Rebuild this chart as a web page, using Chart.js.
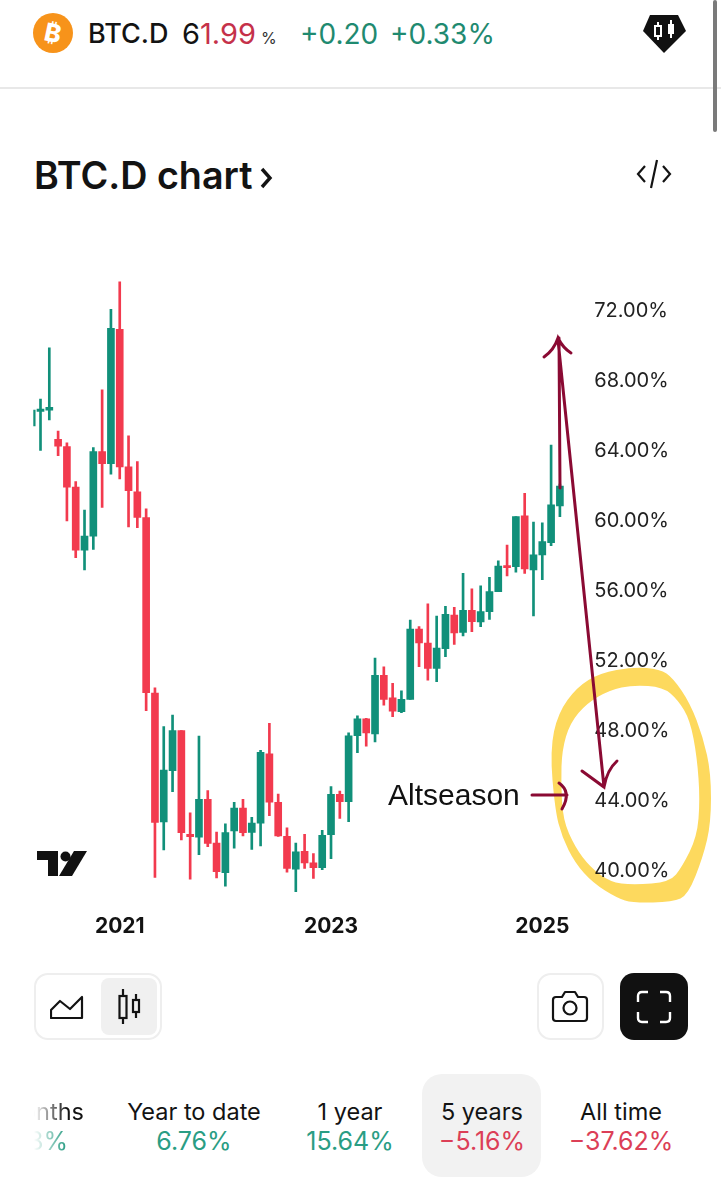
<!DOCTYPE html>
<html>
<head>
<meta charset="utf-8">
<title>BTC.D chart</title>
<script src="https://cdn.jsdelivr.net/npm/chart.js@4/dist/chart.umd.min.js"></script>
<style>
    html, body { margin: 0; padding: 0; background: #fff; }
    body { position: relative; width: 721px; height: 1200px; overflow: hidden; font-family: Inter, Roboto, sans-serif; color: #131313; }
    .abs { position: absolute; white-space: nowrap; }
    #chartWrap { position: absolute; left: 0; top: 276px; width: 721px; height: 664px; }
    .tab { position: absolute; top: 1097px; text-align: center; transform: translateX(-50%); white-space: nowrap; }
    .tab .name { font-size: 23.5px; line-height: 29px; color: #131313; }
    .tab .val { font-size: 25px; line-height: 31px; }
    .up { color: #2a9d84; }
    .down { color: #dc3f57; }
    .box { position: absolute; box-sizing: border-box; border: 2px solid #eeeeee; border-radius: 14px; }
</style>
</head>
<body>

<!-- header -->
<svg class="abs" style="left:33px;top:13px" width="40" height="40" viewBox="0 0 40 40">
    <circle cx="20" cy="20" r="20" fill="#f7931a"/>
    <text x="20" y="29" font-family="Inter" font-weight="800" font-size="25" fill="#fff" text-anchor="middle" transform="rotate(12 20 20)">₿</text>
</svg>
<div class="abs" style="left:88px;top:17px;font-size:27px;line-height:34px;font-weight:500">BTC.D</div>
<div class="abs" style="left:182px;top:17px;font-size:29px;line-height:34px">6<span style="color:#c5314a">1.99</span><span style="font-size:16px;color:#333;margin-left:5px">%</span></div>
<div class="abs" style="left:300px;top:17px;font-size:28px;line-height:34px;color:#1f8a70">+0.20</div>
<div class="abs" style="left:390px;top:17px;font-size:28px;line-height:34px;color:#1f8a70">+0.33%</div>
<svg class="abs" style="left:642px;top:13px" width="46" height="42" viewBox="0 0 46 42">
    <path d="M8 2H36L44 18L22 40L1 18Z" fill="#111"/>
    <path d="M16 9V27M29 7V25" stroke="#fff" stroke-width="2"/>
    <rect x="13" y="13" width="6" height="10" fill="#111" stroke="#fff" stroke-width="2"/>
    <rect x="26" y="11" width="6" height="10" fill="#fff"/>
</svg>
<div class="abs" style="left:0;top:87px;width:721px;height:1.5px;background:#e8e8e8"></div>
<div class="abs" style="left:713px;top:0;width:4px;height:132px;border-radius:2px;background:#7a7a7a"></div>

<div class="abs" style="left:34px;top:150px;font-size:37.7px;line-height:50px;font-weight:600">BTC.D chart</div>
<svg class="abs" style="left:258px;top:166px" width="16" height="24" viewBox="0 0 16 24">
    <path d="M4 3L12 12L4 21" fill="none" stroke="#131313" stroke-width="3.4"/>
</svg>
<svg class="abs" style="left:635px;top:158px" width="38" height="32" viewBox="0 0 38 32">
    <path d="M10 8L3 16L10 24M28 8L35 16L28 24M22 2L16 30" fill="none" stroke="#131313" stroke-width="2.2"/>
</svg>

<!-- chart -->
<div id="chartWrap"><canvas id="btcdChart"></canvas></div>

<svg class="abs" style="left:37px;top:851px" width="50" height="26" viewBox="0 0 50 26">
    <path d="M0 0H21V25H11V9H0Z" fill="#111"/>
    <circle cx="28.5" cy="5.5" r="5" fill="#111"/>
    <path d="M37 0H50L35 25H22Z" fill="#111"/>
</svg>
<div class="abs" style="left:388px;top:776px;font-family:'Liberation Sans';font-size:30px;line-height:38px;color:#111">Altseason</div>

<!-- chart type buttons -->
<div class="box" style="left:34px;top:973px;width:128px;height:67px"></div>
<div class="abs" style="left:101px;top:978px;width:56px;height:57px;border-radius:8px;background:#f0f0f0"></div>
<svg class="abs" style="left:50px;top:995px" width="34" height="26" viewBox="0 0 34 26">
    <path d="M1 23V15L10 6L20 14L32 2V23Z" fill="none" stroke="#131313" stroke-width="2.2" stroke-linejoin="round"/>
</svg>
<svg class="abs" style="left:115px;top:988px" width="30" height="38" viewBox="0 0 30 38">
    <path d="M8 1V36M21 6V30" stroke="#131313" stroke-width="2.2"/>
    <rect x="4.5" y="8" width="7" height="22" fill="#f0f0f0" stroke="#131313" stroke-width="2.2"/>
    <rect x="18" y="12" width="6" height="12" fill="#f0f0f0" stroke="#131313" stroke-width="2.2"/>
</svg>
<div class="box" style="left:537px;top:973px;width:67px;height:67px"></div>
<svg class="abs" style="left:551px;top:990px" width="38" height="34" viewBox="0 0 38 34">
    <path d="M2 10Q2 7 5 7H11L14 2H24L27 7H33Q36 7 36 10V28Q36 31 33 31H5Q2 31 2 28Z" fill="none" stroke="#131313" stroke-width="2.2" stroke-linejoin="round"/>
    <circle cx="19" cy="18" r="6.5" fill="none" stroke="#131313" stroke-width="2.2"/>
</svg>
<div class="abs" style="left:620px;top:973px;width:68px;height:67px;border-radius:14px;background:#111"></div>
<svg class="abs" style="left:636px;top:990px" width="36" height="34" viewBox="0 0 36 34">
    <path d="M2 12V6Q2 2 6 2H12M24 2H30Q34 2 34 6V12M34 22V28Q34 32 30 32H24M12 32H6Q2 32 2 28V22" fill="none" stroke="#fff" stroke-width="2.4"/>
</svg>

<!-- period tabs -->
<div class="abs" style="left:422px;top:1074px;width:119px;height:103px;border-radius:20px;background:#f2f2f2"></div>
<div class="abs" style="left:34px;top:1097px;width:54px;height:60px;overflow:hidden;-webkit-mask-image:linear-gradient(to right,transparent,#000 60%);mask-image:linear-gradient(to right,transparent,#000 60%)">
    <div class="abs" style="right:4px;top:0;font-size:23.5px;line-height:29px">6 months</div>
    <div class="abs up" style="right:20px;top:29px;font-size:25px;line-height:31px">8%</div>
</div>
<div class="tab" style="left:194px"><div class="name">Year to date</div><div class="val up">6.76%</div></div>
<div class="tab" style="left:350px"><div class="name">1 year</div><div class="val up">15.64%</div></div>
<div class="tab" style="left:482px"><div class="name">5 years</div><div class="val down">−5.16%</div></div>
<div class="tab" style="left:621px"><div class="name">All time</div><div class="val down">−37.62%</div></div>

<script>
// monthly candles, Mar 2020 to Mar 2025 (BTC dominance in %)
const months = [
    '2020-03','2020-04','2020-05','2020-06','2020-07','2020-08','2020-09','2020-10','2020-11','2020-12',
    '2021-01','2021-02','2021-03','2021-04','2021-05','2021-06','2021-07','2021-08','2021-09','2021-10','2021-11','2021-12',
    '2022-01','2022-02','2022-03','2022-04','2022-05','2022-06','2022-07','2022-08','2022-09','2022-10','2022-11','2022-12',
    '2023-01','2023-02','2023-03','2023-04','2023-05','2023-06','2023-07','2023-08','2023-09','2023-10','2023-11','2023-12',
    '2024-01','2024-02','2024-03','2024-04','2024-05','2024-06','2024-07','2024-08','2024-09','2024-10','2024-11','2024-12',
    '2025-01','2025-02','2025-03'
];
const opens = [
    65.43,66.26,66.34,64.67,64.25,61.94,58.33,59.13,63.96,63.27,
    70.95,63.09,61.67,60.19,50.17,42.80,45.73,48.02,42.10,41.94,44.10,41.60,
    39.90,42.29,43.60,42.21,42.74,46.70,43.93,41.98,40.10,41.13,40.47,40.19,
    42.07,44.38,43.96,47.73,48.69,47.83,51.18,49.90,49.10,49.81,53.83,53.03,
    51.58,52.70,54.63,53.64,54.90,54.23,54.82,55.96,57.45,57.39,60.29,57.20,
    58.06,58.76,60.86
];
const closes = [
    66.34,66.40,66.49,64.27,61.94,58.34,59.14,63.96,63.27,71.01,
    63.09,61.73,60.21,50.19,42.78,45.77,48.02,42.19,41.96,44.10,41.58,39.96,
    42.19,43.60,42.19,42.74,46.78,43.93,42.00,40.15,41.09,40.46,40.19,42.04,
    44.38,43.96,47.73,48.69,47.89,51.18,49.81,49.14,49.81,53.83,53.03,51.58,
    52.74,54.67,53.60,54.90,54.25,54.82,55.96,57.43,57.33,60.25,57.26,58.07,
    58.82,60.93,62.00
];
const highs = [
    66.34,66.97,69.89,65.14,64.47,62.25,60.63,64.19,67.49,72.10,
    73.67,64.86,63.39,60.70,50.46,48.25,48.91,48.02,43.33,47.71,44.59,42.23,
    42.69,43.93,44.10,43.07,46.90,48.44,44.40,42.47,41.60,42.10,40.99,42.33,
    44.82,44.57,47.89,48.87,48.72,52.17,51.67,50.73,50.29,54.34,53.96,55.27,
    54.57,55.13,55.07,57.01,56.13,56.29,56.78,57.73,58.63,60.25,61.58,59.94,
    59.90,64.34,62.11
];
const lows = [
    65.43,64.03,65.77,63.73,60.00,57.90,57.20,58.38,60.78,62.67,
    62.40,59.66,59.62,49.16,39.64,41.20,44.53,41.77,39.54,40.93,41.39,39.60,
    39.13,41.30,42.00,41.24,41.43,43.16,41.98,39.94,38.82,40.15,39.58,40.07,
    40.70,43.01,42.82,46.76,47.14,47.37,49.47,48.82,49.05,49.81,51.67,50.91,
    50.82,52.25,52.95,53.43,53.67,53.96,54.38,55.96,56.86,57.07,57.01,54.57,
    56.65,58.59,60.25
];
const yearTicks = { '2021-01': '2021', '2023-01': '2023', '2025-01': '2025' };
const percentTicks = [40, 44, 48, 52, 56, 60, 64, 68, 72];

const GREEN = '#11907a';
const RED = '#f23a4e';
const candleColor = (i) => closes[i] >= opens[i] ? GREEN : RED;

// highlighter ring on top of the screenshot, in page pixels
const ringOuter = [
    [633,667],[660,669],[673,678],[690,703],[703,737],[711,773],[711,823],[703,857],[688,895],[673,902],
    [633,903],[617,898],[593,883],[575,863],[562,837],[555,810],[550,750],[558,713],[577,687],[600,673]
];
const ringInner = [
    [633,685],[663,687],[678,700],[690,720],[697,757],[700,800],[697,837],[682,867],[670,882],[633,885],
    [610,882],[590,867],[575,847],[563,820],[561,783],[562,750],[570,723],[587,703],[610,690]
];

function addSmoothRing(c, pts) {
    for (let i = 0; i <= pts.length; i++) {
        const p = pts[i % pts.length];
        const q = pts[(i + 1) % pts.length];
        const mx = (p[0] + q[0]) / 2;
        const my = (p[1] + q[1]) / 2;
        if (i === 0) c.moveTo(mx, my);
        else c.quadraticCurveTo(p[0], p[1], mx, my);
    }
    c.closePath();
}

const penMarks = {
    id: 'penMarks',
    afterDraw(chart) {
        const c = chart.ctx;
        c.save();
        c.translate(0, -276); // page coordinates
        c.globalCompositeOperation = 'multiply';
        c.fillStyle = '#fdd95e';
        c.beginPath();
        addSmoothRing(c, ringOuter);
        addSmoothRing(c, ringInner);
        c.fill('evenodd');
        c.globalCompositeOperation = 'source-over';

        c.strokeStyle = '#8a0a33';
        c.lineCap = 'round';
        c.lineWidth = 3;
        c.beginPath();
        c.moveTo(559, 338); c.lineTo(560, 488);
        c.moveTo(558, 340); c.lineTo(604, 787);
        c.moveTo(544, 357); c.quadraticCurveTo(554, 350, 558, 338); c.quadraticCurveTo(563, 348, 571, 353);
        c.moveTo(582, 771); c.lineTo(604, 787); c.quadraticCurveTo(607, 770, 617, 761);
        c.moveTo(532, 795); c.lineTo(567, 795);
        c.moveTo(559, 783); c.quadraticCurveTo(572, 792, 562, 809);
        c.stroke();
        c.restore();
    }
};

const ctx = document.getElementById('btcdChart').getContext('2d');
new Chart(ctx, {
    type: 'bar',
    data: {
        labels: months,
        datasets: [
            {
                label: 'Wick',
                data: months.map((m, i) => [lows[i], highs[i]]),
                backgroundColor: months.map((m, i) => candleColor(i)),
                barThickness: 2,
                grouped: false,
                order: 2,
                clip: { left: -6, top: 0, right: 0, bottom: 0 }
            },
            {
                label: 'Body',
                data: months.map((m, i) => [opens[i], closes[i]]),
                backgroundColor: months.map((m, i) => candleColor(i)),
                barThickness: 7,
                minBarLength: 2,
                grouped: false,
                order: 1,
                clip: { left: -6, top: 0, right: 0, bottom: 0 }
            }
        ]
    },
    options: {
        responsive: true,
        maintainAspectRatio: false,
        animation: false,
        layout: { padding: { left: 27.3, top: 0, right: 0, bottom: 0 } },
        plugins: { legend: { display: false }, tooltip: { enabled: false } },
        scales: {
            x: {
                offset: true,
                grid: { display: false, drawTicks: false },
                border: { display: false },
                afterFit: (scale) => { scale.height = 42.75; },
                ticks: {
                    autoSkip: false,
                    maxRotation: 0,
                    padding: 17,
                    color: '#131313',
                    font: { family: 'Inter', size: 21, weight: '700' },
                    callback(value) { return yearTicks[this.getLabelForValue(value)] || ''; }
                }
            },
            y: {
                position: 'right',
                min: 38.5,
                max: 74,
                grid: { display: false, drawTicks: false },
                border: { display: false },
                afterFit: (scale) => {
                    scale.width = 156.7;
                    scale.paddingTop = 0;
                    scale.paddingBottom = 0;
                },
                ticks: {
                    padding: 30,
                    color: '#222',
                    font: { family: 'Inter', size: 20 },
                    callback: (value) => value.toFixed(2) + '%'
                },
                afterBuildTicks: (scale) => { scale.ticks = percentTicks.map(v => ({ value: v })); }
            }
        }
    },
    plugins: [penMarks]
});
</script>
</body>
</html>
